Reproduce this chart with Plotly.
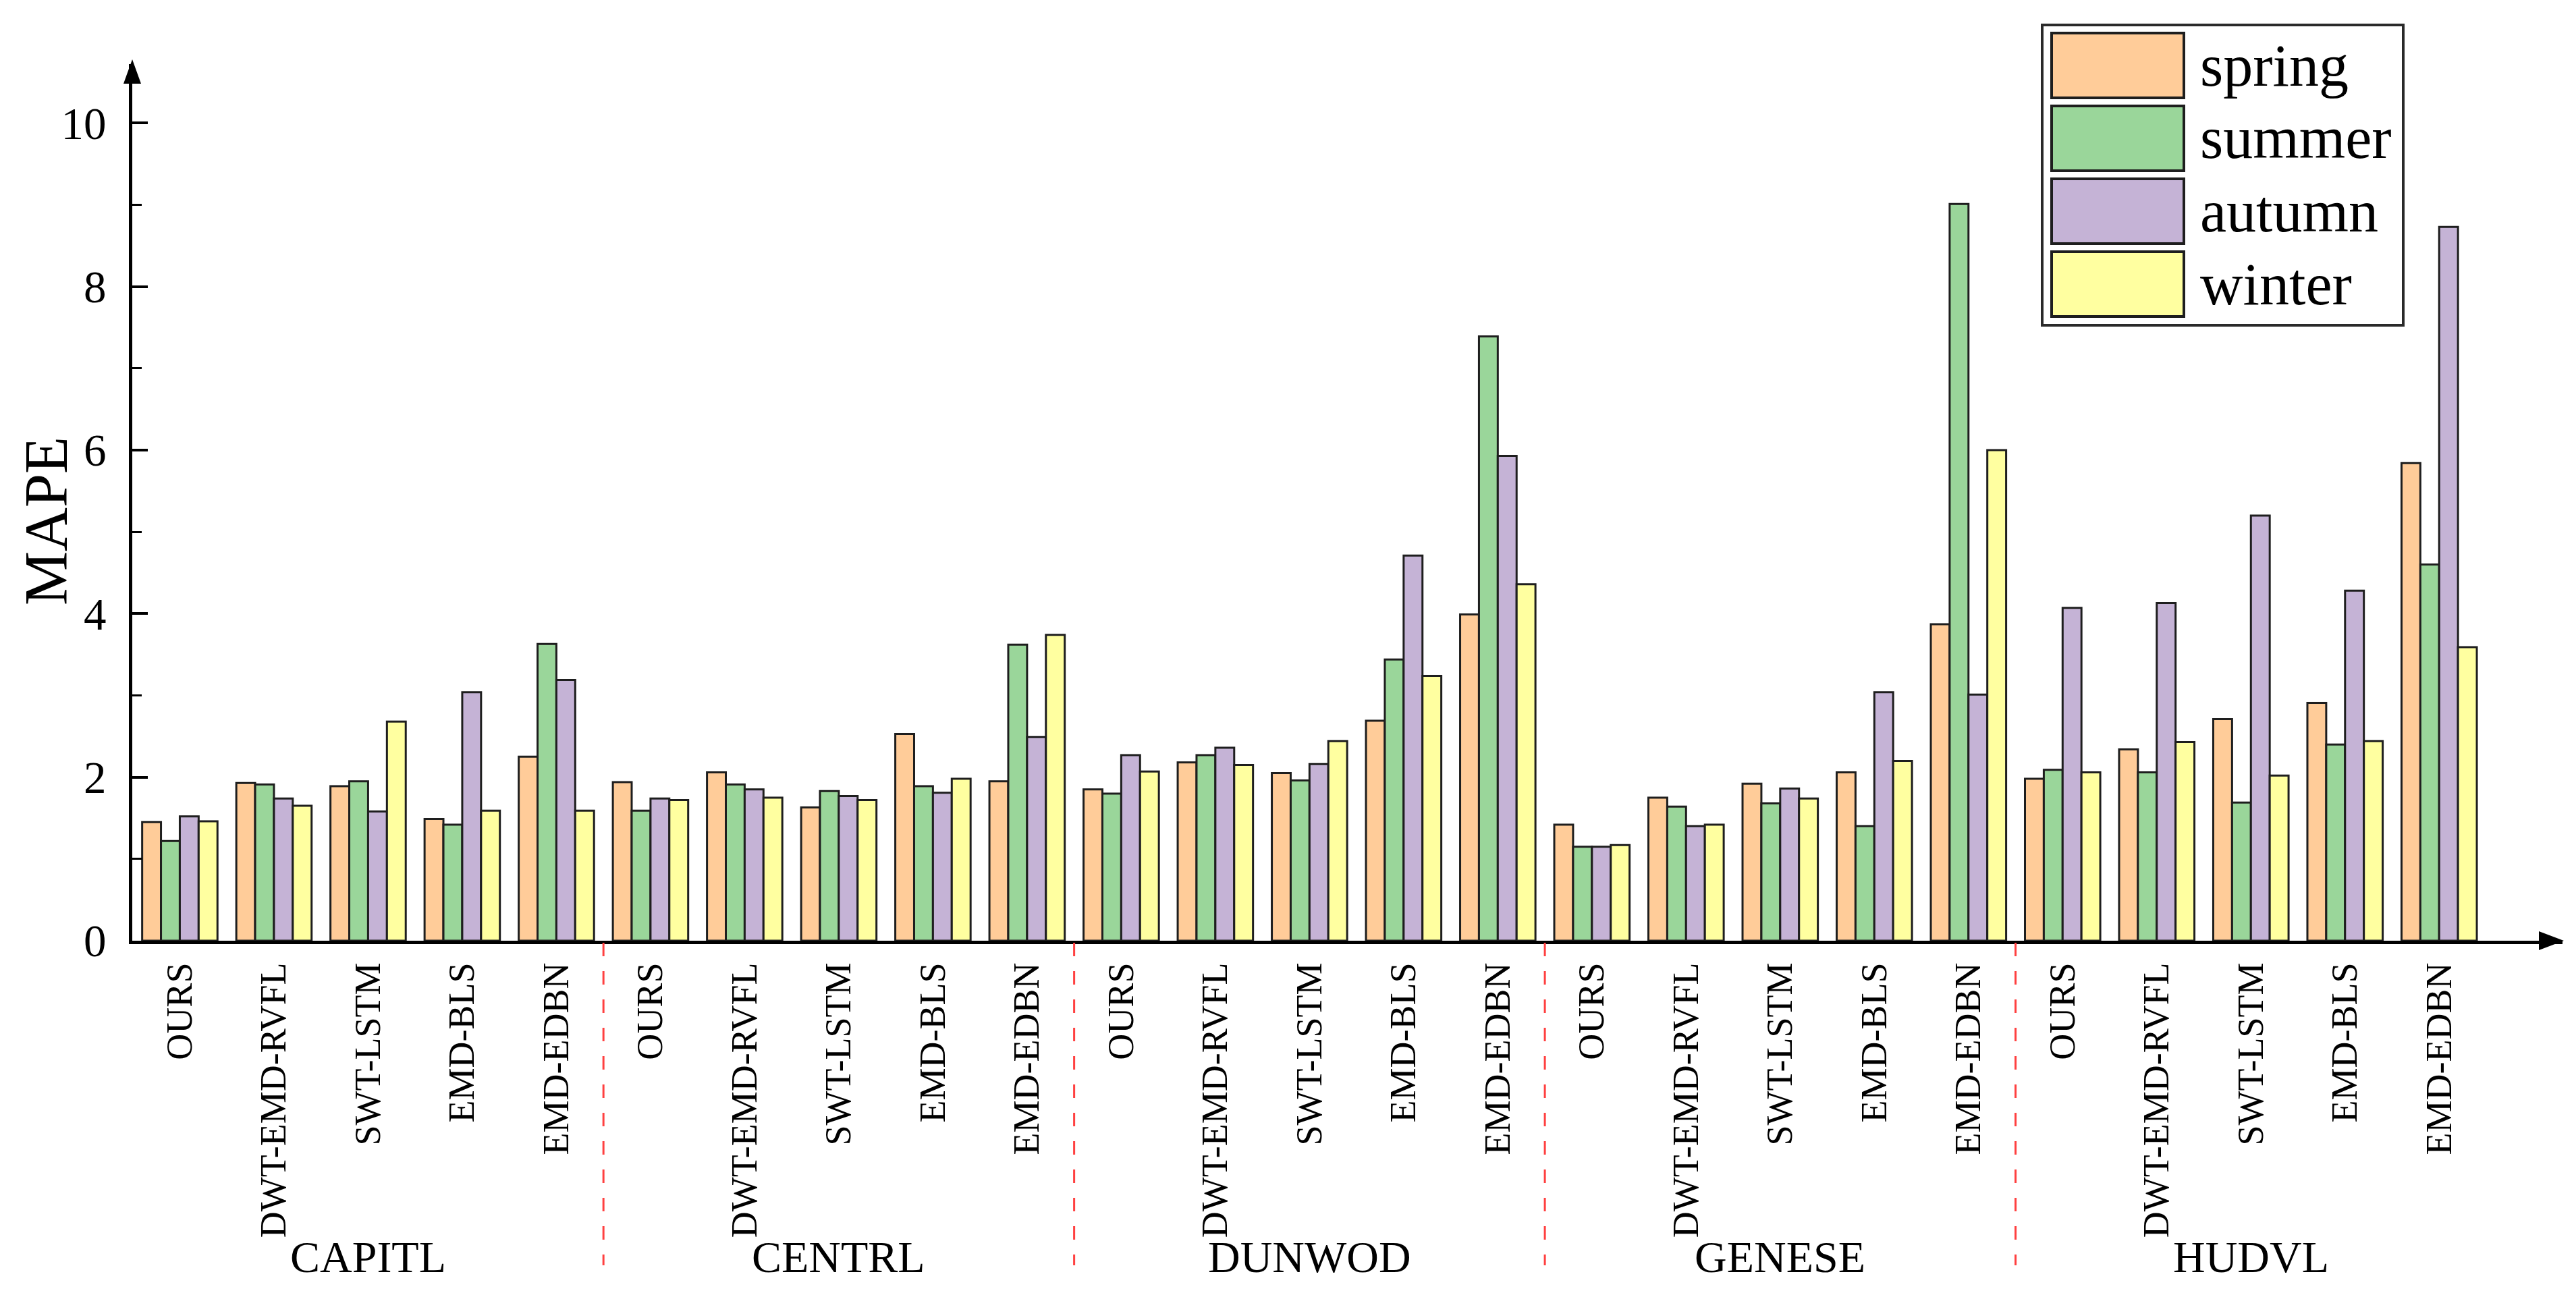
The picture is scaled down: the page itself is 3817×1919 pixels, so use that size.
import plotly.graph_objects as go

# ---------------- data ----------------
regions = ["CAPITL", "CENTRL", "DUNWOD", "GENESE", "HUDVL"]
methods = ["OURS", "DWT-EMD-RVFL", "SWT-LSTM", "EMD-BLS", "EMD-EDBN"]
seasons = ["spring", "summer", "autumn", "winter"]

spring = [1.45, 1.93, 1.89, 1.49, 2.25,
          1.94, 2.06, 1.63, 2.53, 1.95,
          1.85, 2.18, 2.05, 2.69, 3.99,
          1.42, 1.75, 1.92, 2.06, 3.87,
          1.98, 2.34, 2.71, 2.91, 5.84]
summer = [1.22, 1.91, 1.95, 1.42, 3.63,
          1.59, 1.91, 1.83, 1.89, 3.62,
          1.80, 2.27, 1.96, 3.44, 7.39,
          1.15, 1.64, 1.68, 1.40, 9.01,
          2.09, 2.06, 1.69, 2.40, 4.60]
autumn = [1.52, 1.74, 1.58, 3.04, 3.19,
          1.74, 1.85, 1.77, 1.81, 2.49,
          2.27, 2.36, 2.16, 4.71, 5.93,
          1.15, 1.40, 1.86, 3.04, 3.01,
          4.07, 4.13, 5.20, 4.28, 8.73]
winter = [1.46, 1.65, 2.68, 1.59, 1.59,
          1.72, 1.75, 1.72, 1.98, 3.74,
          2.07, 2.15, 2.44, 3.24, 4.36,
          1.17, 1.42, 1.74, 2.20, 6.00,
          2.06, 2.43, 2.02, 2.44, 3.59]

colors = ["#FFCC99", "#9AD69A", "#C5B3D6", "#FFFFA0"]

# ---------------- layout geometry ----------------
W, H = 3817, 1919
L, R, T, B = 196, 20, 95, 525
PW, PH = W - L - R, H - T - B


def px_x(px):
    return (px - L) / PW


def px_y(py):
    return (H - B - py) / PH


n_m = len(methods)
xpos = list(range(len(regions) * n_m))
ticktext = [m for _ in regions for m in methods]

fig = go.Figure()
for name, vals, c in zip(seasons, [spring, summer, autumn, winter], colors):
    fig.add_bar(x=xpos, y=vals, name=name, showlegend=False,
                marker=dict(color=c, line=dict(color="#1e1e1e", width=3)))

serif = "Liberation Serif, Times New Roman, serif"
fig.update_layout(
    width=W, height=H,
    margin=dict(l=L, r=R, t=T, b=B),
    barmode="group", bargap=0.2, bargroupgap=0,
    plot_bgcolor="white", paper_bgcolor="white",
    font=dict(family=serif, color="black"),
)
fig.update_xaxes(
    range=[-0.505, 25.31], tickvals=xpos, ticktext=ticktext, tickangle=-90,
    tickfont=dict(size=54, family=serif), showline=True, linewidth=5,
    linecolor="black", ticks="", showgrid=False, zeroline=False,
    ticklabelstandoff=6,
)
fig.update_yaxes(
    range=[0, 10.72], tick0=0, dtick=2, ticks="inside", ticklen=23,
    tickwidth=4, tickcolor="black",
    minor=dict(dtick=1, ticks="inside", ticklen=14, tickwidth=3, tickcolor="black"),
    showline=True, linewidth=5, linecolor="black", showgrid=False,
    zeroline=False, tickfont=dict(size=67, family=serif), ticklabelstandoff=20,
)

shapes = []
# axis arrowheads
shapes.append(dict(type="path", xref="paper", yref="paper", fillcolor="black",
                   line=dict(width=0),
                   path=f"M{px_x(3799)},{px_y(H - B)} L{px_x(3762)},{px_y(H - B - 14)} "
                        f"L{px_x(3762)},{px_y(H - B + 14)} Z"))
shapes.append(dict(type="path", xref="paper", yref="paper", fillcolor="black",
                   line=dict(width=0),
                   path=f"M{px_x(L)},{px_y(88)} L{px_x(L - 13)},{px_y(124)} "
                        f"L{px_x(L + 13)},{px_y(124)} Z"))
# red dashed region separators
for k in range(1, len(regions)):
    xs = k * n_m - 0.5
    shapes.append(dict(type="line", xref="x", yref="paper", x0=xs, x1=xs,
                       y0=px_y(H - B + 3), y1=px_y(1875),
                       line=dict(color="#FF4040", width=3, dash="20px,22px")))

annotations = []
# y-axis title
annotations.append(dict(text="MAPE", xref="paper", yref="paper",
                        x=px_x(68), y=px_y(772), textangle=-90, showarrow=False,
                        xanchor="center", yanchor="middle",
                        font=dict(size=90, family=serif, color="black")))
# region labels
for k, r in enumerate(regions):
    annotations.append(dict(text=r, x=k * n_m + (n_m - 1) / 2, xref="x",
                            y=px_y(1862), yref="paper", showarrow=False,
                            xanchor="center", yanchor="middle",
                            font=dict(size=66, family=serif, color="black")))

# legend box (drawn manually to match big swatches)
shapes.append(dict(type="rect", xref="paper", yref="paper",
                   x0=px_x(3026), x1=px_x(3561), y0=px_y(37), y1=px_y(482),
                   line=dict(color="#2a2a2a", width=4), fillcolor="white"))
for i, (name, c) in enumerate(zip(seasons, colors)):
    top = 49 + i * 108
    shapes.append(dict(type="rect", xref="paper", yref="paper",
                       x0=px_x(3040), x1=px_x(3236), y0=px_y(top), y1=px_y(top + 96),
                       line=dict(color="#1e1e1e", width=4), fillcolor=c))
    annotations.append(dict(text=name, xref="paper", yref="paper",
                            x=px_x(3258), y=px_y(top + 48), showarrow=False,
                            xanchor="left", yanchor="middle",
                            font=dict(size=88, family=serif, color="black")))

fig.update_layout(shapes=shapes, annotations=annotations)

fig.write_html("out.html", config={"displayModeBar": False},
               post_script="document.body.style.margin='0';document.body.style.overflow='hidden';")
